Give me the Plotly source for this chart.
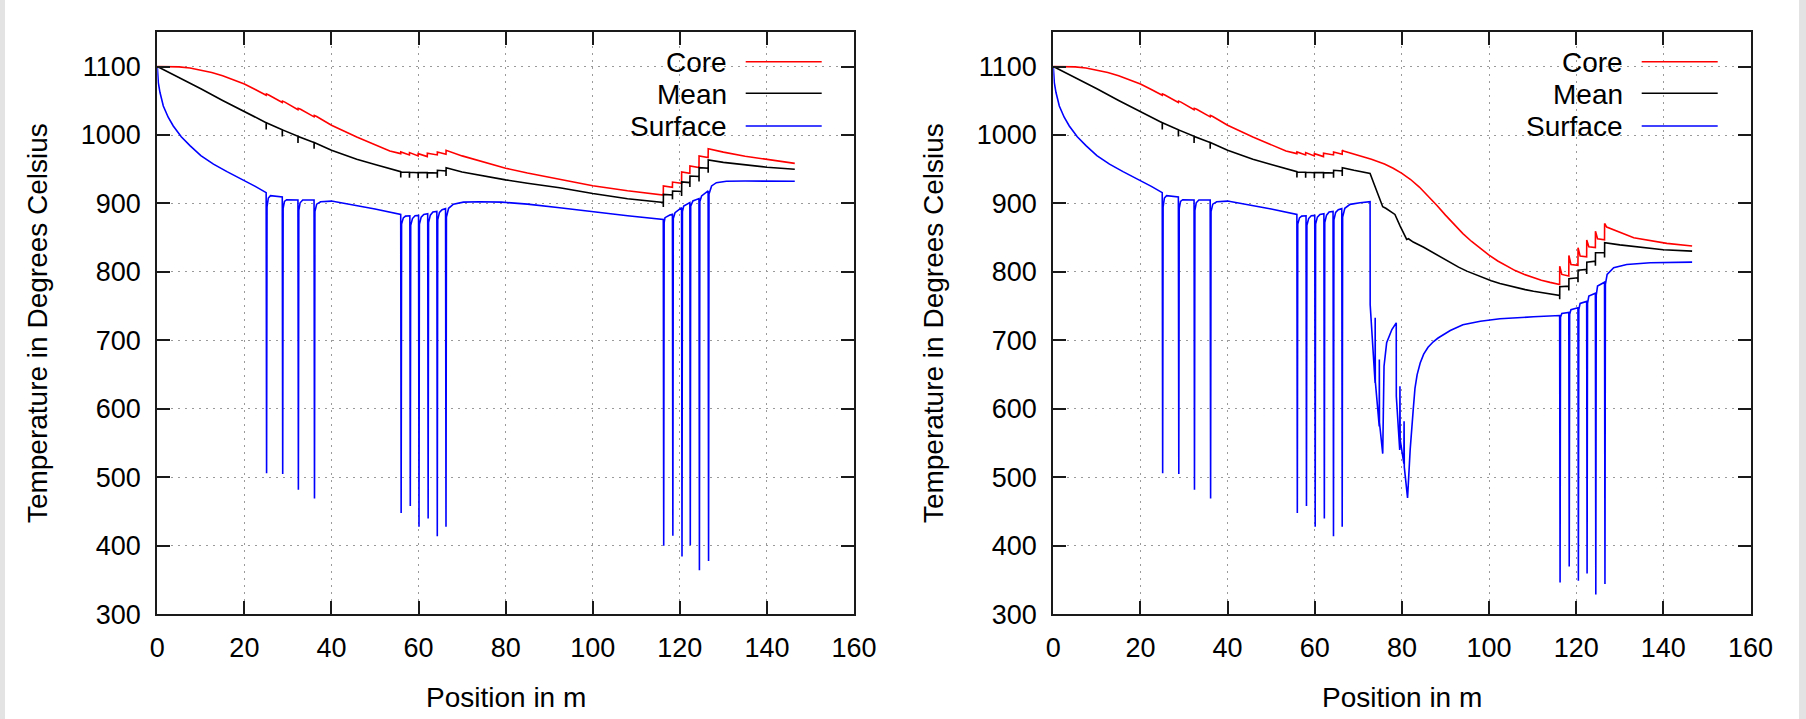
import plotly.graph_objects as go

W, H = 1806, 719

# ---------------- data ----------------
# Core temperature, common part (both panels, 0 .. 66.3 m)
core_common_x = [0, 2.5, 5, 7.5, 10, 12.5, 15, 17.5, 20, 22.5, 25.0, 25.05, 25.6, 28.7, 28.75, 29.3, 32.3, 32.35, 32.9,
                 36.0, 36.05, 36.6, 40, 45.8, 53.4, 55.9, 55.92, 57.9, 57.92, 59.9, 59.92, 62.0, 62.02,
                 64.3, 64.32, 66.3, 66.32]
core_common_y = [1100, 1100, 1099.5, 1097.8, 1095, 1091.2, 1086.5, 1081, 1074.5, 1066.5, 1058, 1060, 1058.5,
                 1047.5, 1049.5, 1048, 1037, 1039, 1037.5,
                 1026.5, 1028.5, 1027, 1014.2, 997.1, 976.6, 972.8, 975.3, 970.9, 974.3, 969.5, 972.8, 968.5, 973.3,
                 970.9, 975.3, 971.9, 977.7]
core_left_x = [70, 75, 80, 85, 92.4, 100, 108, 116.2, 116.22, 118.3, 118.32, 120.4, 120.42, 122.3, 122.32,
               124.4, 124.42, 126.5, 126.52, 130, 135, 140, 146.4]
core_left_y = [969.5, 960, 951.5, 944.5, 935.2, 926, 918.5, 912.3, 925.5, 923.5, 931.3, 929.5, 946, 944, 954.7,
               952.5, 969.3, 967, 980, 975, 969, 964, 958.6]
core_right_x = [66.6, 70, 73, 76, 78, 80, 82, 84, 86, 88, 90, 92, 94, 96, 98, 100, 102, 104, 106, 108, 110, 112, 114,
                116.2, 116.22, 116.7,
                118.3, 118.32, 118.8, 120.4, 120.42, 120.9, 122.4, 122.42, 122.9, 124.4, 124.42, 124.9,
                126.5, 126.52, 127, 130, 133.2, 140.8, 146.6]
core_right_y = [976.6, 970.5, 964.5, 957.5, 951.5, 944, 935, 924, 911.5, 897.5, 883, 869, 856, 844.5, 834, 824.5,
                816, 808.5, 802, 796.5, 792, 788, 784.8,
                781.7, 808.5, 796.4,
                794, 824, 811, 809.6, 835.4, 823.2, 822, 846.5, 836.8, 835.5, 859.6, 848.5,
                847, 870.9, 865.5, 858.5, 850, 841.7, 837.8]

# Mean temperature
mean_common_x = [0, 5, 10, 15, 20, 25.0, 25.01, 25.03, 28.7, 28.71, 28.73, 32.3, 32.31, 32.33, 36.0, 36.01, 36.03,
                 40, 45.8, 50, 55.9, 55.91, 55.93, 57.9, 57.91, 57.93, 59.9, 59.91, 59.93, 62.0, 62.01, 62.03,
                 64.3, 64.31, 64.33, 66.3, 66.31, 66.33]
mean_common_y = [1100, 1084, 1067.5, 1050.5, 1034, 1018, 1008, 1018, 1007.5, 998, 1007.5, 998, 988.5, 998, 989, 980, 989,
                 977.6, 964.5, 957, 946.5, 938, 946, 945.5, 937.5, 945.5, 945, 937, 945, 945, 937, 945,
                 944.5, 937.5, 948.5, 947.5, 940, 952.3]
mean_left_x = [70, 75, 80, 85, 92.4, 100, 108, 116.2, 116.21, 116.23, 118.3, 118.31, 118.33, 120.4, 120.41, 120.43,
               122.3, 122.31, 122.33, 124.4, 124.41, 124.43, 126.5, 126.51, 126.53, 130, 135, 140, 146.4]
mean_left_y = [946, 940, 934.5, 929.5, 923, 914.5, 907, 901.5, 895, 913.3, 912.5, 906, 918.2, 917.5, 911, 931.4,
               930.5, 924, 940.1, 939.5, 932, 952.3, 951.5, 945, 963.5, 960, 956, 953, 949.9]
mean_right_x = [69, 72.7, 73.5, 74.6, 75.6, 76.3, 77.3, 78.4, 79.6, 81.1, 81.5, 82.6, 85, 87.2, 89, 91.1, 93, 94.9,
                97, 98.7, 100.5, 102.5, 104.5, 106.4, 108.3, 110.2, 113,
                116.2, 116.21, 116.23, 118.3, 118.31, 118.33, 120.4, 120.41, 120.43,
                122.4, 122.41, 122.43, 124.4, 124.41, 124.43, 126.5, 126.51, 126.53, 130, 135, 140, 146.6]
mean_right_y = [948.5, 944, 930.4, 910.9, 895.3, 893, 888.9, 884, 867, 847.5, 848.5, 843.6, 836, 828, 820.8, 813.5,
                807, 801.2, 795.6, 791.5, 787.3, 783.2, 779.8, 776.9, 774.2, 771.9, 768.6,
                765.6, 760, 778.4, 779.3, 773, 790, 791.5, 785, 802.6,
                803.6, 797, 814.3, 815.8, 809, 828, 828, 821, 842.6, 839.5, 835.5, 832.5, 830.4]

# Surface temperature
surf_common_x = [0, 0.23, 0.62, 1.38, 2.5, 3.67, 5.5, 7.5, 10, 12.9, 16, 20, 22.5, 25.0, 25.1, 25.2, 25.5, 26, 27,
                 28.7, 28.8, 28.9, 29.2, 29.7, 32.3, 32.4, 32.5, 32.8, 33.4, 36.0, 36.1, 36.2, 36.6, 37.5,
                 40, 45, 50, 55.9, 56.0, 56.1, 56.5, 57, 58.0, 58.1, 58.2, 58.6, 59.2, 60.0, 60.1, 60.2, 60.6,
                 61.2, 62.1, 62.2, 62.3, 62.7, 63.3, 64.2, 64.3, 64.4, 64.8, 65.4, 66.2, 66.3, 66.4, 66.9]
surf_common_y = [1100, 1076.6, 1062, 1042.4, 1026, 1013.2, 997.5, 984.5, 970, 957.5, 946.5, 934, 925, 915.8, 506, 895,
                 908, 911.5, 911,
                 909.5, 505, 893, 903, 905.5, 905, 482, 890, 901, 905, 905, 469, 888, 899, 902.5,
                 903.5, 898, 892, 884, 448, 870, 879, 881.5, 882, 458, 868, 878, 882, 882.5, 428, 870, 880,
                 884, 885, 440, 872, 883, 887.5, 888.5, 414, 876, 887, 891, 892.5, 428, 880, 893]
surf_left_x = [68, 70.3, 74, 79, 85, 92.4, 100, 108, 116.2, 116.3, 116.4, 116.6, 117.7, 118.3, 118.4, 118.5, 118.9,
               120, 120.4, 120.5, 120.6, 120.9, 121.9, 122.3, 122.4, 122.5, 123, 124.2, 124.4, 124.5, 124.6, 125,
               126.1, 126.5, 126.6, 126.7, 127.3, 128.4, 130.7, 135, 146.4]
surf_left_y = [899, 902, 902.5, 902, 899, 893.8, 888, 882, 876.8, 400, 872, 879.3, 883.2, 884.2, 414.6, 878, 886.6,
               891.5, 893.9, 384.5, 888, 896.4, 900.3, 901.3, 401, 896, 903.7, 906.1, 907.1, 364.4, 903, 911,
               916.9, 918.3, 377.8, 914, 925.6, 930.4, 932.4, 932.8, 932.5]
surf_right_x = [68.1, 70.4, 72.7, 72.72, 73.85, 73.87, 73.9, 74.8, 74.82, 74.85, 75.6, 75.9, 76.5, 77.7, 78.7, 78.72,
                79.5, 79.55, 79.6, 80.45, 80.5, 80.55, 81.3, 81.5, 81.9, 82.6, 83.0, 83.5, 84.2, 85, 86, 87.2,
                88.3, 91.1, 94, 98, 102.5, 110.2,
                116.2, 116.3, 116.4, 116.7, 118.3, 118.4, 118.5, 118.8, 120.4, 120.5, 120.6, 120.9, 122.4, 122.5,
                122.6, 122.9, 124.4, 124.5, 124.6, 124.9, 126.5, 126.6, 126.7, 127.1, 128.6, 131.6, 137, 146.6]
surf_right_y = [898.7, 901, 902.6, 752, 638, 733, 640, 574.5, 672, 580, 534.6, 662.3, 696.5, 715.9, 725.7, 618.5,
                540, 633, 555, 520, 582, 515, 470, 500, 540.5, 599, 630, 650, 667, 680, 690, 698,
                703.5, 714.5, 722.8, 728, 731.6, 734.5,
                736.4, 346.3, 734, 739.3, 740.8, 369.7, 738, 745, 747.7, 349, 745, 754, 757, 359.7,
                754, 764.7, 768.9, 328.9, 766, 779.3, 785, 344.3, 782, 796.4, 806.1, 811, 813.5, 814.3]

series_names = ["Core", "Mean", "Surface"]
series_colors = ["#ff0000", "#000000", "#0000ff"]
x_ticks = [0, 20, 40, 60, 80, 100, 120, 140, 160]
y_ticks = [300, 400, 500, 600, 700, 800, 900, 1000, 1100]

pairs = [
    [(core_common_x + core_left_x, core_common_y + core_left_y),
     (mean_common_x + mean_left_x, mean_common_y + mean_left_y),
     (surf_common_x + surf_left_x, surf_common_y + surf_left_y)],
    [(core_common_x + core_right_x, core_common_y + core_right_y),
     (mean_common_x + mean_right_x, mean_common_y + mean_right_y),
     (surf_common_x + surf_right_x, surf_common_y + surf_right_y)],
]
for panel in pairs:
    for xs, ys in panel:
        if len(xs) != len(ys):
            raise ValueError(f"length mismatch {len(xs)} {len(ys)}")

# ---------------- layout geometry (pixels) ----------------
panels_px = [(157.3, 854.0), (1053.3, 1750.5)]
top_px, bot_px = 32.3, 614.3

fig = go.Figure()
FONT = "Liberation Sans, Arial, sans-serif"

for p, panel in enumerate(pairs):
    xa = "x" if p == 0 else "x2"
    ya = "y" if p == 0 else "y2"
    for (xs, ys), name, col in zip(panel, series_names, series_colors):
        fig.add_trace(go.Scatter(x=xs, y=ys, mode="lines", name=name, xaxis=xa, yaxis=ya,
                                 line=dict(color=col, width=1.6), showlegend=False, hoverinfo="skip"))

axis_common = dict(showline=True, linecolor="#1a1a1a", linewidth=2, mirror="ticks",
                   ticks="inside", ticklen=13, tickwidth=1.5, tickcolor="#1a1a1a",
                   showgrid=True, gridcolor="#9a9a9a", gridwidth=1, griddash="2px,5px",
                   zeroline=False, automargin=False,
                   tickfont=dict(family=FONT, size=27, color="#000"))

layout = dict(width=W, height=H, margin=dict(l=0, r=0, t=0, b=0, autoexpand=False),
              paper_bgcolor="white", plot_bgcolor="white", showlegend=False)
for p, (l, r) in enumerate(panels_px):
    sfx = "" if p == 0 else "2"
    layout["xaxis" + sfx] = dict(axis_common, domain=[l / W, r / W], range=[0, 160],
                                 tickvals=x_ticks, anchor="y" + sfx, ticklabelstandoff=8)
    layout["yaxis" + sfx] = dict(axis_common, domain=[1 - bot_px / H, 1 - top_px / H], range=[300, 1150],
                                 tickvals=y_ticks, anchor="x" + sfx, ticklabelstandoff=9)
fig.update_layout(**layout)

shapes = []
annotations = []
# light grey frame strips at the page edges
shapes.append(dict(type="rect", xref="paper", yref="paper", x0=0, x1=5 / W, y0=0, y1=1,
                   fillcolor="#e3e3e3", line=dict(width=0), layer="below"))
shapes.append(dict(type="rect", xref="paper", yref="paper", x0=1799 / W, x1=1, y0=0, y1=1,
                   fillcolor="#e3e3e3", line=dict(width=0), layer="below"))

legend_rows_py = [61.7, 93.3, 126.0]
for p, (l, r) in enumerate(panels_px):
    dx = l - panels_px[0][0]
    # opaque key box hiding the grid
    shapes.append(dict(type="rect", xref="paper", yref="paper",
                       x0=(613 + dx) / W, x1=(838 + dx) / W, y0=1 - 146 / H, y1=1 - 34 / H,
                       fillcolor="white", line=dict(width=0), layer="between"))
    for name, col, py in zip(series_names, series_colors, legend_rows_py):
        shapes.append(dict(type="line", xref="paper", yref="paper",
                           x0=(745.7 + dx) / W, x1=(821.7 + dx) / W, y0=1 - py / H, y1=1 - py / H,
                           line=dict(color=col, width=1.6), layer="above"))
        annotations.append(dict(text=name, xref="paper", yref="paper", x=(729 + dx) / W, y=1 - (py + 1) / H,
                                xanchor="right", yanchor="middle", showarrow=False,
                                font=dict(family=FONT, size=28, color="#000")))
    cx = (l + r) / 2
    annotations.append(dict(text="Position in m", xref="paper", yref="paper", x=cx / W, y=1 - 697 / H,
                            xanchor="center", yanchor="middle", showarrow=False,
                            font=dict(family=FONT, size=28, color="#000")))
    annotations.append(dict(text="Temperature in Degrees Celsius", xref="paper", yref="paper",
                            x=(37.5 + dx) / W, y=1 - 323.6 / H, textangle=-90,
                            xanchor="center", yanchor="middle", showarrow=False,
                            font=dict(family=FONT, size=28, color="#000")))

fig.update_layout(shapes=shapes, annotations=annotations)
fig.write_html("out.html", config={"displayModeBar": False},
               post_script="document.body.style.margin='0';document.body.style.padding='0';"
                           "document.body.style.overflow='hidden';")
